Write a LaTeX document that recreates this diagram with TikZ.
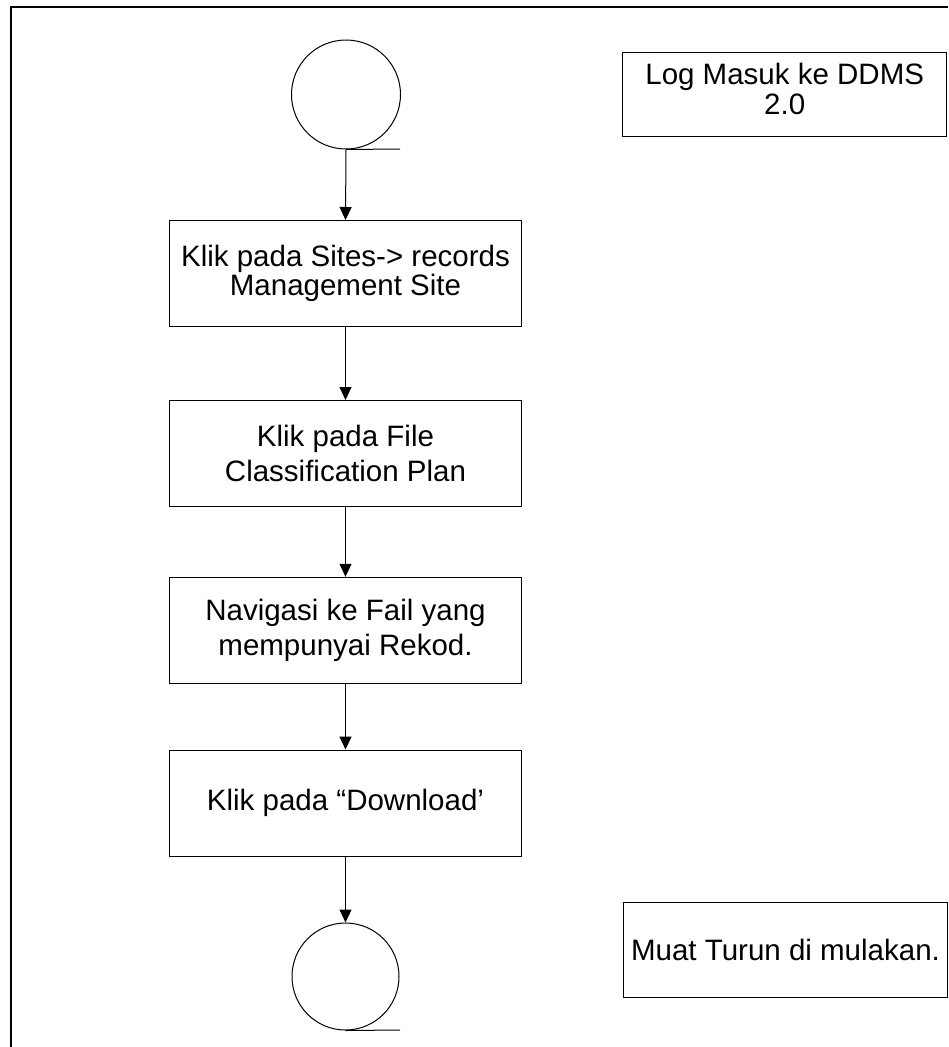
\documentclass[tikz,border=0pt]{standalone}
\usepackage{fontspec}
\setmainfont{Liberation Sans}
\usetikzlibrary{arrows.meta}
\begin{document}
\begin{tikzpicture}[x=1pt,y=-1pt,
  line width=1pt,
  stepbox/.style={draw, rectangle, minimum width=352.5pt, minimum height=106pt, align=center, inner sep=0pt, font=\fontsize{29.5}{35}\selectfont},
  notebox/.style={draw, rectangle, minimum width=324pt, align=center, inner sep=0pt, font=\fontsize{29.5}{30}\selectfont},
  term/.style={draw, circle, inner sep=0pt},
  flow/.style={-{Triangle[length=13pt,width=12pt]}}]
\useasboundingbox (0,0) rectangle (948,1047);
\draw[line width=1.2pt] (948,7) -- (11,7) -- (11,1047);

\node[term, minimum size=109pt] (start) at (346,94.5) {};
\coordinate (starttail) at (400,149);
\draw (start.south) -- (starttail);

\node[stepbox, font=\fontsize{29.5}{29}\selectfont] (b1) at (345.5,273.5) {Klik pada Sites-> records\\Management Site};
\node[stepbox] (b2) at (345.5,453.5) {Klik pada File\\Classification Plan};
\node[stepbox] (b3) at (345.5,630.3) {Navigasi ke Fail yang\\mempunyai Rekod.};
\node[stepbox] (b4) at (345.5,803) {Klik pada “Download’};

\node[term, minimum size=107pt] (stop) at (345.5,976.5) {};
\coordinate (stoptail) at (400,1030);
\draw (stop.south) -- (stoptail);

\draw[flow] (start.south) -- (b1.north);
\draw[flow] (b1.south) -- (b2.north);
\draw[flow] (b2.south) -- (b3.north);
\draw[flow] (b3.south) -- (b4.north);
\draw[flow] (b4.south) -- (stop.north);

\node[notebox, minimum height=84pt, text depth=12pt] (login) at (784.7,94.7) {Log Masuk ke DDMS\\2.0};
\node[notebox, minimum height=95pt, minimum width=324.4pt] (muat) at (785.5,949.8) {Muat Turun di mulakan.};
\end{tikzpicture}
\end{document}
